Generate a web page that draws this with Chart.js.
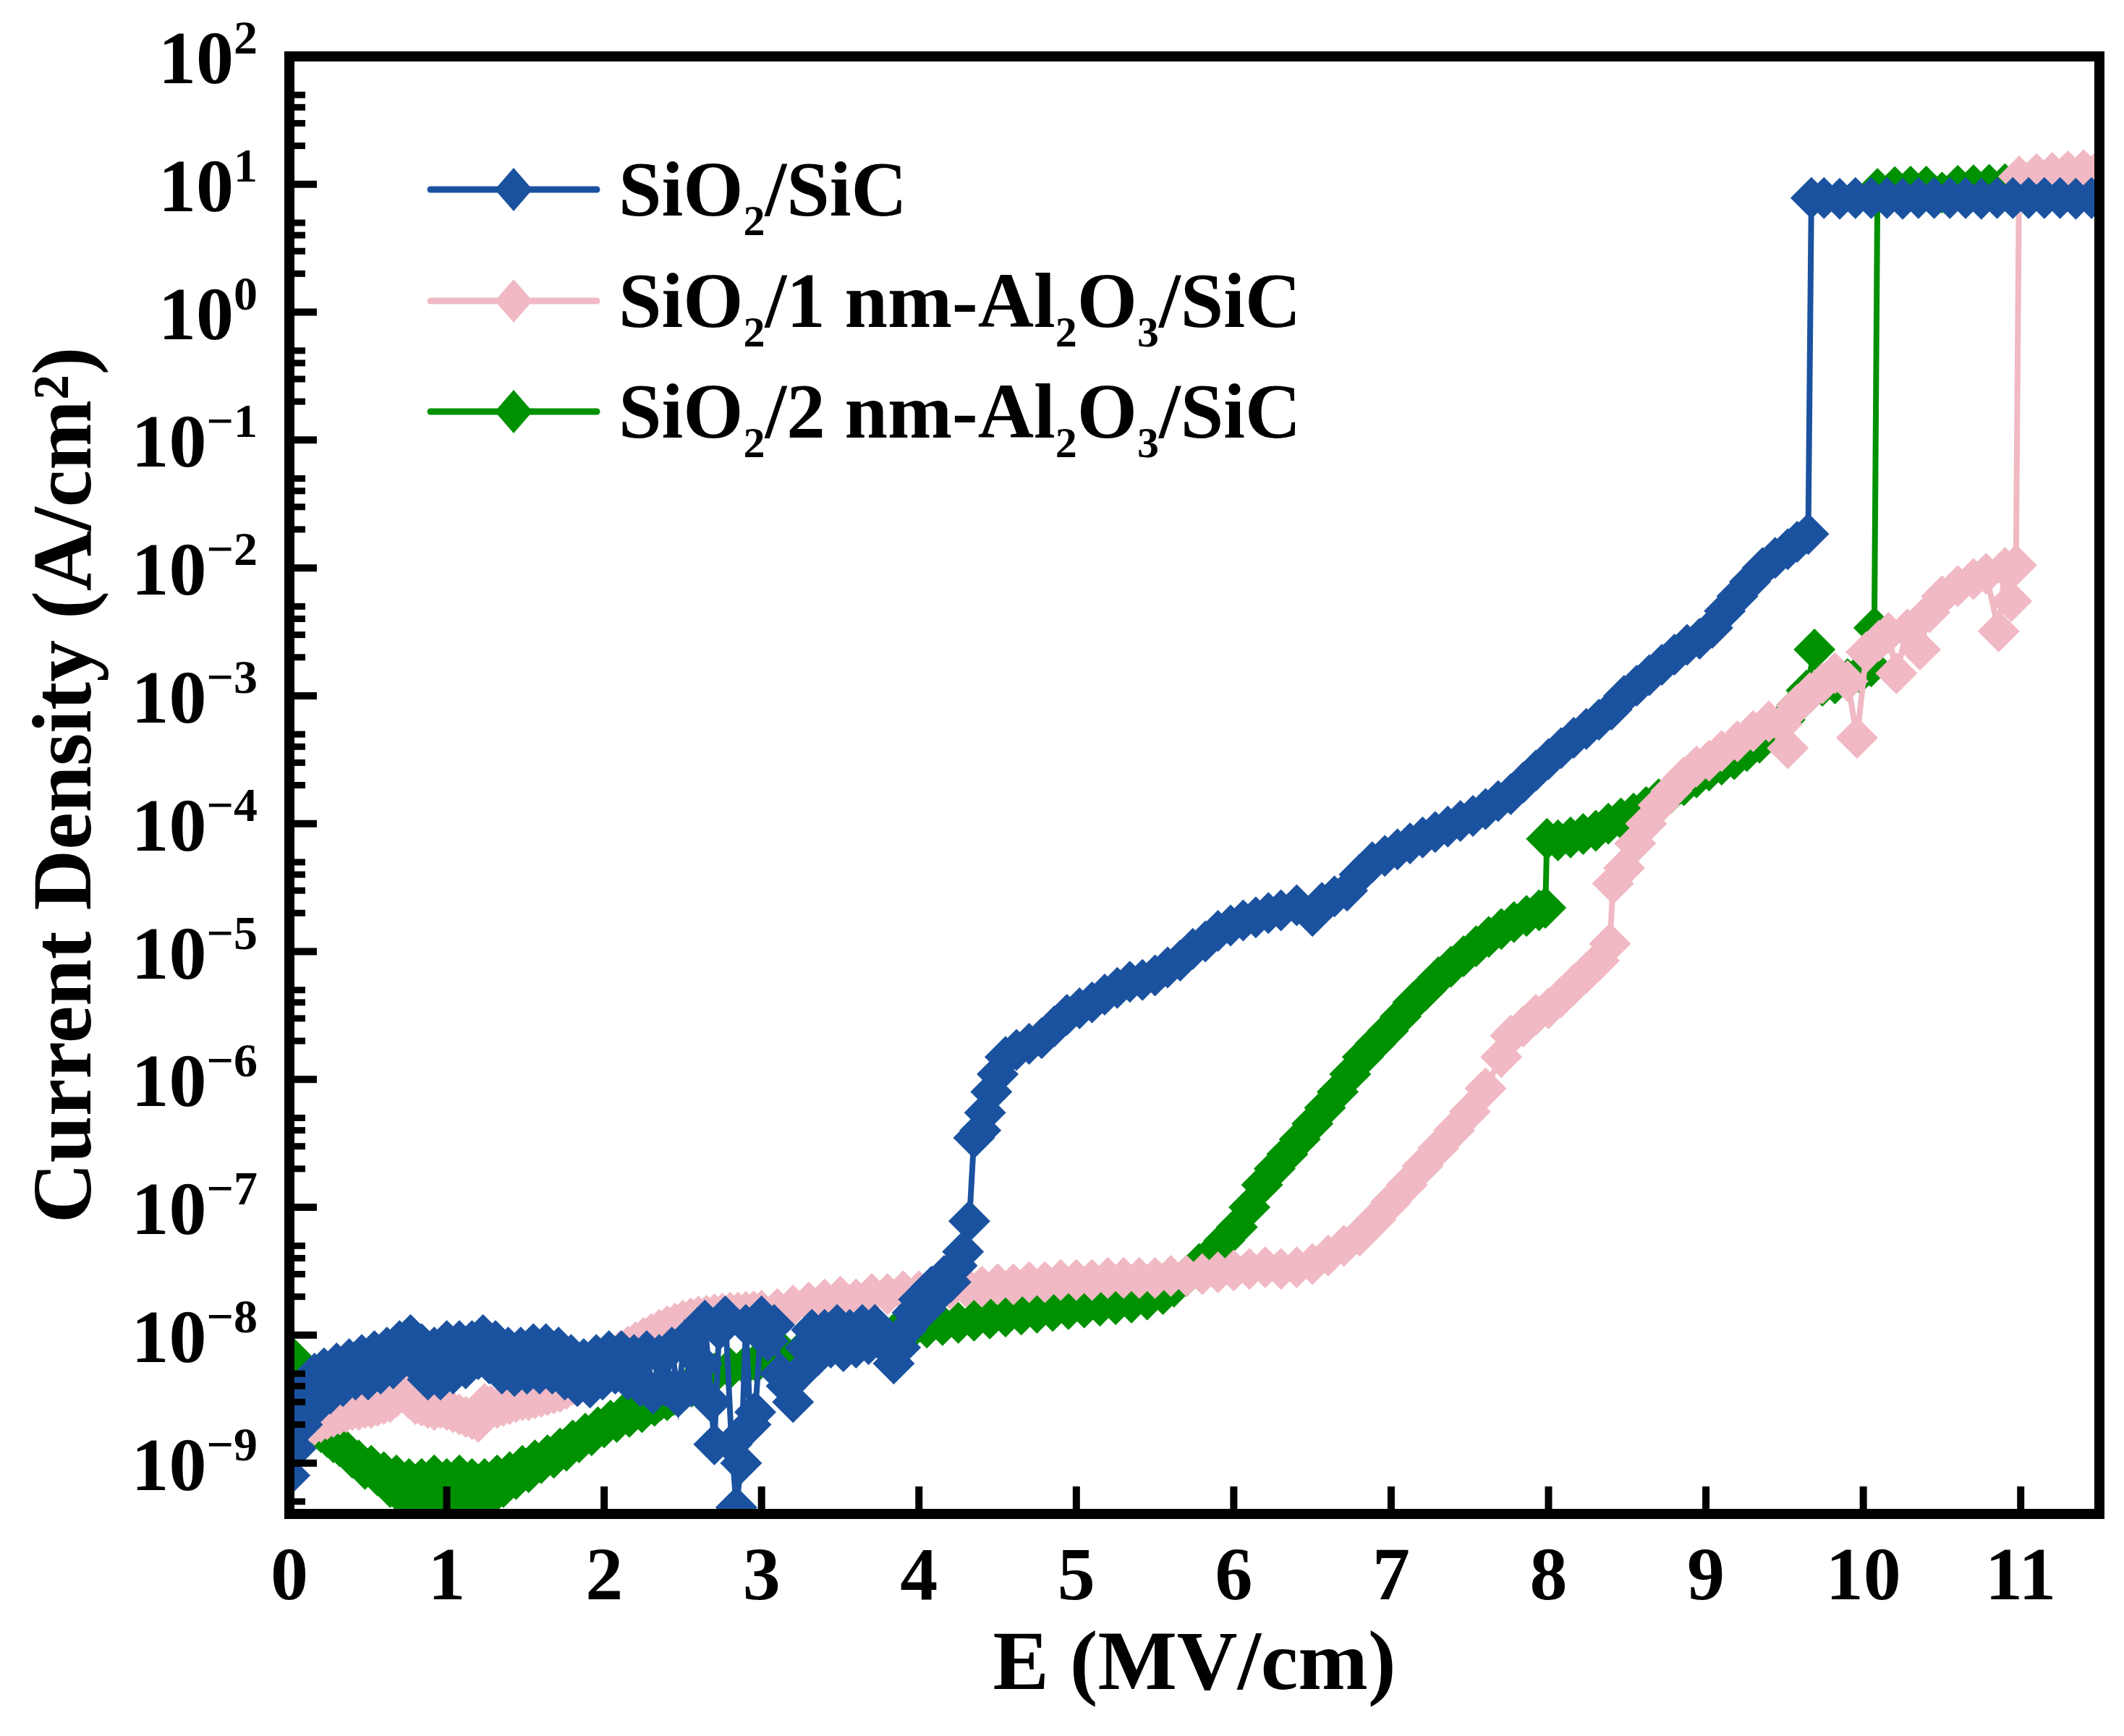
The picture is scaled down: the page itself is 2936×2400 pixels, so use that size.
<!DOCTYPE html>
<html lang="en">
<head>
  <meta charset="UTF-8" />
  <title>J-E curves</title>
  <script src="https://cdn.jsdelivr.net/npm/chart.js"></script>
  <style>
    html, body { margin: 0; padding: 0; background: #fff; }
    #chart { display: block; width: 2936px; height: 2400px; }
  </style>
</head>
<body>
  <canvas id="chart" width="2936" height="2400"></canvas>
  <script>
    // ---- data: [E (MV/cm), J (A/cm^2)] ----
    const blueData = [[0.00,8e-10],[0.02,2.5e-9],[0.04,1.3e-9],[0.06,3.5e-9],[0.08,2e-9],[0.10,4e-9],[0.13,2.5e-9],[0.16,5e-9],
      [0.19,3e-9],[0.22,5.5e-9],[0.26,3.5e-9],[0.30,6e-9],[0.34,4e-9],[0.38,6.5e-9],[0.42,4.5e-9],[0.46,7e-9],[0.50,4.5e-9],
      [0.54,7.5e-9],[0.58,5e-9],[0.62,8e-9],[0.66,5.5e-9],[0.70,9e-9],[0.74,7e-9],[0.77,1e-8],[0.80,6e-9],[0.84,8.5e-9],
      [0.88,4.5e-9],[0.92,8e-9],[0.96,4.5e-9],[1.00,9e-9],[1.04,5e-9],[1.08,9e-9],[1.12,5.5e-9],[1.16,9e-9],[1.20,6.5e-9],
      [1.23,1e-8],[1.27,6e-9],[1.31,9e-9],[1.35,5e-9],[1.39,8e-9],[1.43,4.8e-9],[1.47,8e-9],[1.51,5e-9],[1.55,8.5e-9],
      [1.59,5e-9],[1.63,8.5e-9],[1.67,5e-9],[1.71,8e-9],[1.75,4.5e-9],[1.79,7e-9],[1.83,4e-9],[1.87,6.5e-9],[1.91,3.9e-9],
      [1.95,7e-9],[1.99,4.5e-9],[2.03,7.5e-9],[2.07,5e-9],[2.11,7.5e-9],[2.15,4.5e-9],[2.19,7e-9],[2.23,4e-9],[2.27,7.5e-9],
      [2.31,3.5e-9],[2.35,7e-9],[2.39,4e-9],[2.43,8e-9],[2.47,3.3e-9],[2.51,9e-9],[2.55,4e-9],[2.59,1.1e-8],[2.62,6e-9],
      [2.64,1.3e-8],[2.68,3e-9],[2.70,1.4e-9],[2.73,1.1e-8],[2.77,1.4e-8],[2.81,1.4e-9],[2.84,4.5e-10],[2.87,1e-9],[2.90,1.2e-8],
      [2.93,2e-9],[2.96,2.5e-9],[3.00,1.4e-8],[3.04,9e-9],[3.08,1.2e-8],[3.12,5e-9],[3.16,4e-9],[3.20,3e-9],[3.24,5e-9],
      [3.28,8e-9],[3.32,1.1e-8],[3.36,7e-9],[3.40,1.1e-8],[3.44,8e-9],[3.48,1.2e-8],[3.52,7.5e-9],[3.56,1.1e-8],[3.60,8e-9],
      [3.64,1.2e-8],[3.68,8.5e-9],[3.72,1.2e-8],[3.76,9e-9],[3.80,8e-9],[3.84,6e-9],[3.88,8e-9],[3.92,1.1e-8],[3.96,1.5e-8],
      [4.00,1.9e-8],[4.04,1.6e-8],[4.08,2.4e-8],[4.12,2.1e-8],[4.16,2.9e-8],[4.20,2.6e-8],[4.24,3.5e-8],[4.28,4.5e-8],
      [4.32,7.8e-8],[4.35,3.5e-7],[4.39,4e-7],[4.42,5.5e-7],[4.46,8e-7],[4.50,1.1e-6],[4.55,1.5e-6],[4.62,1.7e-6],[4.70,1.9e-6],
      [4.78,2.1e-6],[4.86,2.6e-6],[4.94,3.2e-6],[5.02,3.6e-6],[5.10,4e-6],[5.18,4.6e-6],[5.26,5.2e-6],[5.34,5.8e-6],[5.42,6e-6],
      [5.50,6.5e-6],[5.58,7.5e-6],[5.66,8.5e-6],[5.74,1.05e-5],[5.82,1.2e-5],[5.90,1.45e-5],[5.98,1.6e-5],[6.06,1.75e-5],
      [6.14,1.85e-5],[6.22,2e-5],[6.30,2.1e-5],[6.40,2.3e-5],[6.50,1.9e-5],[6.56,2.4e-5],[6.64,2.7e-5],[6.72,3e-5],[6.80,4e-5],
      [6.88,5e-5],[6.96,5.6e-5],[7.04,6.3e-5],[7.12,7e-5],[7.20,7.8e-5],[7.28,8.6e-5],[7.36,9.5e-5],[7.44,1.05e-4],[7.52,1.15e-4],
      [7.60,1.3e-4],[7.68,1.5e-4],[7.76,1.7e-4],[7.84,2.1e-4],[7.92,2.6e-4],[8.00,3.2e-4],[8.08,3.9e-4],[8.16,4.7e-4],[8.24,5.5e-4],
      [8.32,6.5e-4],[8.40,7.8e-4],[8.48,1e-3],[8.56,1.2e-3],[8.64,1.45e-3],[8.72,1.75e-3],[8.80,2.1e-3],[8.88,2.5e-3],[8.96,2.8e-3],
      [9.04,3.4e-3],[9.12,4.6e-3],[9.20,6e-3],[9.28,7.8e-3],[9.36,1e-2],[9.44,1.2e-2],[9.52,1.4e-2],[9.58,1.6e-2],[9.65,1.84e-2],
      [9.67,7.8],[9.75,7.8],[9.85,7.7],[9.95,7.8],[10.05,7.8],[10.15,7.8],[10.25,7.7],[10.35,7.8],[10.45,7.8],[10.55,7.8],
      [10.65,7.8],[10.75,7.7],[10.85,7.8],[10.95,7.8],[11.05,7.8],[11.15,7.8],[11.25,7.8],[11.35,7.7],[11.45,7.8],[11.55,7.8]];

    const pinkData = [[0.00,3.2e-9],[0.04,2.4e-9],[0.08,2.1e-9],[0.12,2e-9],[0.16,2e-9],[0.20,2.1e-9],[0.24,2.2e-9],[0.28,2.3e-9],
      [0.32,2.4e-9],[0.36,2.5e-9],[0.40,2.6e-9],[0.44,2.6e-9],[0.48,2.7e-9],[0.52,2.7e-9],[0.56,2.8e-9],[0.60,2.9e-9],[0.64,3e-9],
      [0.68,3.3e-9],[0.72,3.8e-9],[0.76,3.2e-9],[0.80,2.9e-9],[0.84,2.8e-9],[0.88,2.7e-9],[0.92,2.6e-9],[0.96,2.7e-9],[1.00,2.6e-9],
      [1.04,2.5e-9],[1.08,2.4e-9],[1.12,2.3e-9],[1.16,2.2e-9],[1.20,2.1e-9],[1.24,2.9e-9],[1.28,2.8e-9],[1.32,2.7e-9],[1.36,2.8e-9],
      [1.40,2.9e-9],[1.44,3e-9],[1.48,3.1e-9],[1.52,3.1e-9],[1.56,3.2e-9],[1.60,3.3e-9],[1.64,3.4e-9],[1.68,3.5e-9],[1.72,3.6e-9],
      [1.76,3.8e-9],[1.80,4.1e-9],[1.85,4.6e-9],[1.90,5.1e-9],[1.95,5.7e-9],[2.00,6.3e-9],[2.05,6.9e-9],[2.10,7.5e-9],[2.15,8.1e-9],
      [2.20,8.8e-9],[2.25,9.5e-9],[2.30,1.02e-8],[2.35,1.1e-8],[2.40,1.17e-8],[2.45,1.23e-8],[2.50,1.3e-8],[2.55,1.35e-8],
      [2.60,1.4e-8],[2.65,1.42e-8],[2.70,1.45e-8],[2.75,1.47e-8],[2.80,1.5e-8],[2.85,1.5e-8],[2.90,1.52e-8],[2.95,1.53e-8],
      [3.00,1.55e-8],[3.10,1.6e-8],[3.20,1.7e-8],[3.30,1.8e-8],[3.40,1.9e-8],[3.50,2e-8],[3.60,1.9e-8],[3.70,2.1e-8],[3.80,2.1e-8],
      [3.90,2.2e-8],[4.00,2.2e-8],[4.10,2.3e-8],[4.20,2.3e-8],[4.30,2.4e-8],[4.40,2.4e-8],[4.50,2.5e-8],[4.60,2.5e-8],[4.70,2.6e-8],
      [4.80,2.6e-8],[4.90,2.7e-8],[5.00,2.7e-8],[5.10,2.7e-8],[5.20,2.8e-8],[5.30,2.8e-8],[5.40,2.8e-8],[5.50,2.8e-8],[5.60,2.9e-8],
      [5.70,2.9e-8],[5.80,3e-8],[5.90,3.1e-8],[6.00,3.2e-8],[6.10,3.3e-8],[6.20,3.4e-8],[6.30,3.3e-8],[6.40,3.4e-8],[6.50,3.6e-8],
      [6.60,4.2e-8],[6.70,5e-8],[6.80,6e-8],[6.90,8e-8],[7.00,1.1e-7],[7.10,1.5e-7],[7.20,2.1e-7],[7.30,2.9e-7],[7.40,4e-7],
      [7.50,5.6e-7],[7.60,8.5e-7],[7.70,1.5e-6],[7.76,2.2e-6],[7.84,2.6e-6],[7.92,3.2e-6],[8.00,3.6e-6],[8.08,4.4e-6],[8.16,5.5e-6],
      [8.24,6.8e-6],[8.32,8.5e-6],[8.39,1.15e-5],[8.41,3.4e-5],[8.48,4.5e-5],[8.55,7e-5],[8.62,1e-4],[8.70,1.4e-4],[8.78,1.8e-4],
      [8.86,2.3e-4],[8.94,2.8e-4],[9.02,3.1e-4],[9.10,3.7e-4],[9.20,4.4e-4],[9.30,5.3e-4],[9.40,6.3e-4],[9.48,6e-4],[9.52,3.9e-4],
      [9.58,8.5e-4],[9.66,1.05e-3],[9.74,1.25e-3],[9.82,1.5e-3],[9.90,1.3e-3],[9.96,4.7e-4],[10.02,2.2e-3],[10.10,2.7e-3],
      [10.16,3.1e-3],[10.21,1.5e-3],[10.28,3.3e-3],[10.36,2.3e-3],[10.42,4.5e-3],[10.50,6e-3],[10.60,7.2e-3],[10.70,8.2e-3],
      [10.78,9e-3],[10.86,3.2e-3],[10.90,1e-2],[10.94,5.5e-3],[10.97,1.05e-2],[10.99,11.5],[11.10,12],[11.20,12.3],[11.30,12.6],
      [11.40,12.9],[11.50,13.2]];

    const greenData = [[0.00,5e-9],[0.03,6.5e-9],[0.06,4e-9],[0.09,3e-9],[0.12,2.4e-9],[0.16,2e-9],[0.20,1.75e-9],[0.24,1.6e-9],
      [0.28,1.45e-9],[0.32,1.35e-9],[0.36,1.25e-9],[0.40,1.1e-9],[0.44,1.05e-9],[0.48,9e-10],[0.52,9.5e-10],[0.56,8e-10],
      [0.60,8.5e-10],[0.64,6.5e-10],[0.68,8e-10],[0.72,5.5e-10],[0.76,7.5e-10],[0.80,4.5e-10],[0.84,7.5e-10],[0.88,4.2e-10],
      [0.92,8e-10],[0.96,4.5e-10],[1.00,7.5e-10],[1.04,4.2e-10],[1.08,8e-10],[1.12,4.5e-10],[1.16,7.5e-10],[1.20,4.8e-10],
      [1.24,7.5e-10],[1.28,5.5e-10],[1.32,8e-10],[1.36,6.5e-10],[1.40,8.5e-10],[1.44,7.5e-10],[1.48,9.5e-10],[1.52,8.5e-10],
      [1.56,1.05e-9],[1.60,1e-9],[1.64,1.15e-9],[1.68,1.1e-9],[1.72,1.3e-9],[1.76,1.25e-9],[1.80,1.5e-9],[1.84,1.45e-9],
      [1.88,1.7e-9],[1.92,1.65e-9],[1.96,1.9e-9],[2.00,1.9e-9],[2.04,2.15e-9],[2.08,2.1e-9],[2.12,2.4e-9],[2.16,2.3e-9],
      [2.20,2.6e-9],[2.24,2.5e-9],[2.28,2.8e-9],[2.32,2.8e-9],[2.36,3.1e-9],[2.40,3.1e-9],[2.44,3.4e-9],[2.48,3.5e-9],
      [2.52,3.8e-9],[2.56,4e-9],[2.62,4.4e-9],[2.70,5e-9],[2.80,5.5e-9],[2.90,5.8e-9],[2.97,6.1e-9],[3.05,6.5e-9],[3.15,7e-9],
      [3.25,7.5e-9],[3.35,8e-9],[3.45,8.5e-9],[3.55,9e-9],[3.65,9.5e-9],[3.75,1e-8],[3.85,1.05e-8],[3.95,1.1e-8],[4.05,1.15e-8],
      [4.15,1.2e-8],[4.25,1.25e-8],[4.35,1.3e-8],[4.45,1.35e-8],[4.55,1.4e-8],[4.65,1.45e-8],[4.75,1.5e-8],[4.85,1.55e-8],
      [4.95,1.6e-8],[5.05,1.65e-8],[5.15,1.7e-8],[5.25,1.75e-8],[5.35,1.8e-8],[5.45,1.9e-8],[5.55,2.1e-8],[5.62,2.4e-8],
      [5.70,2.9e-8],[5.78,3.6e-8],[5.86,4.3e-8],[5.94,5.5e-8],[6.02,7e-8],[6.10,1e-7],[6.18,1.5e-7],[6.26,2e-7],[6.34,2.6e-7],
      [6.42,3.4e-7],[6.50,4.5e-7],[6.58,6e-7],[6.66,8e-7],[6.74,1.1e-6],[6.82,1.5e-6],[6.90,1.9e-6],[6.98,2.4e-6],[7.06,3.1e-6],
      [7.14,4e-6],[7.22,5e-6],[7.30,6.3e-6],[7.38,7.6e-6],[7.46,9.2e-6],[7.54,1.1e-5],[7.62,1.3e-5],[7.70,1.5e-5],[7.78,1.7e-5],
      [7.86,1.9e-5],[7.94,2.1e-5],[7.98,2.2e-5],[7.99,7.6e-5],[8.06,7.4e-5],[8.14,7.8e-5],[8.22,8.3e-5],[8.30,8.8e-5],[8.38,1e-4],
      [8.46,1.1e-4],[8.54,1.2e-4],[8.62,1.35e-4],[8.70,1.55e-4],[8.78,1.75e-4],[8.86,2e-4],[8.94,2.3e-4],[9.02,2.6e-4],[9.10,2.9e-4],
      [9.18,3.2e-4],[9.26,3.7e-4],[9.34,4.3e-4],[9.42,5.2e-4],[9.50,6.5e-4],[9.58,8.5e-4],[9.64,1.1e-3],[9.69,2.3e-3],[9.74,1.2e-3],
      [9.82,1.25e-3],[9.90,1.35e-3],[9.98,1.5e-3],[10.05,1.7e-3],[10.07,3.4e-3],[10.09,9.2],[10.20,9.5],[10.30,9.6],[10.40,9.6],
      [10.50,8.6],[10.60,9.7],[10.70,9.8],[10.80,9.9],[10.90,10],[11.00,10.1],[11.10,10.1],[11.20,10.2],[11.30,10.2],[11.40,10.3],
      [11.50,10.3]];

    const seriesColors = ['#1b52a0', '#f0b9c3', '#009100'];
    // legend text pieces: [text, isSubscript]
    const legendLabels = [
      [['SiO', false], ['2', true], ['/SiC', false]],
      [['SiO', false], ['2', true], ['/1 nm-Al', false], ['2', true], ['O', false], ['3', true], ['/SiC', false]],
      [['SiO', false], ['2', true], ['/2 nm-Al', false], ['2', true], ['O', false], ['3', true], ['/SiC', false]]
    ];
    const xTicks = [0, 1, 2, 3, 4, 5, 6, 7, 8, 9, 10, 11];
    const yDecades = [2, 1, 0, -1, -2, -3, -4, -5, -6, -7, -8, -9];
    const yMinor = [2, 3, 4, 5];

    const FONT = '"Liberation Serif", "Times New Roman", serif';

    function series(label, pairs, color) {
      return {
        label,
        data: pairs.map(([x, y]) => ({ x, y })),
        borderColor: color,
        backgroundColor: color,
        borderWidth: 8,
        pointStyle: 'rectRot',
        pointRadius: 29,
        pointHoverRadius: 29,
        pointBorderWidth: 0,
        pointBackgroundColor: color,
        tension: 0,
        clip: 0
      };
    }

    // frame + inward ticks
    const framePlugin = {
      id: 'frame',
      afterDatasetsDraw(chart) {
        const { ctx, chartArea: a, scales: { x, y } } = chart;
        const seg = (x1, y1, x2, y2) => { ctx.beginPath(); ctx.moveTo(x1, y1); ctx.lineTo(x2, y2); ctx.stroke(); };
        ctx.save();
        ctx.strokeStyle = '#000';
        ctx.lineWidth = 10;
        xTicks.forEach(v => { const px = x.getPixelForValue(v); seg(px, a.bottom, px, a.bottom - 38); });
        yDecades.forEach(e => { const py = y.getPixelForValue(Math.pow(10, e)); seg(a.left, py, a.left + 38, py); });
        ctx.lineWidth = 9;
        [...yDecades, -10].forEach(e => yMinor.forEach(m => {
          const v = m * Math.pow(10, e);
          if (v <= y.min || v >= y.max) return;
          const py = y.getPixelForValue(v);
          seg(a.left, py, a.left + 22, py);
        }));
        ctx.lineWidth = 14;
        ctx.strokeRect(a.left, a.top, a.right - a.left, a.bottom - a.top);
        ctx.restore();
      }
    };

    // 10^n tick labels and legend
    const labelPlugin = {
      id: 'labels',
      afterDraw(chart) {
        const { ctx, scales: { y } } = chart;
        ctx.save();
        ctx.fillStyle = '#000';
        ctx.textBaseline = 'alphabetic';
        ctx.textAlign = 'left';
        const right = 356;
        yDecades.forEach(e => {
          const py = y.getPixelForValue(Math.pow(10, e));
          const sup = e < 0 ? '\u2212' + (-e) : String(e);
          ctx.font = `bold 66px ${FONT}`;
          const supW = ctx.measureText(sup).width;
          ctx.fillText(sup, right - supW, py - 4);
          ctx.font = `bold 104px ${FONT}`;
          const baseW = ctx.measureText('10').width;
          ctx.fillText('10', right - supW - baseW, py + 37);
        });

        const rows = [262, 416, 569];
        rows.forEach((ry, i) => {
          const c = seriesColors[i];
          ctx.strokeStyle = c;
          ctx.fillStyle = c;
          ctx.lineWidth = 9;
          ctx.lineCap = 'round';
          ctx.beginPath(); ctx.moveTo(595, ry); ctx.lineTo(825, ry); ctx.stroke();
          ctx.beginPath();
          ctx.moveTo(710, ry - 30); ctx.lineTo(736, ry); ctx.lineTo(710, ry + 30); ctx.lineTo(684, ry);
          ctx.closePath(); ctx.fill();
          let tx = 855;
          ctx.fillStyle = '#000';
          legendLabels[i].forEach(([t, sub]) => {
            ctx.font = sub ? `bold 60px ${FONT}` : `bold 107px ${FONT}`;
            ctx.fillText(t, tx, ry + 36 + (sub ? 27 : 0));
            tx += ctx.measureText(t).width;
          });
        });
        ctx.restore();
      }
    };

    new Chart(document.getElementById('chart').getContext('2d'), {
      type: 'line',
      data: {
        datasets: [
          series('SiO2/SiC', blueData, seriesColors[0]),
          series('SiO2/1 nm-Al2O3/SiC', pinkData, seriesColors[1]),
          series('SiO2/2 nm-Al2O3/SiC', greenData, seriesColors[2])
        ]
      },
      options: {
        responsive: false,
        devicePixelRatio: 1,
        animation: false,
        events: [],
        layout: { padding: { top: 78, right: 34, left: 0, bottom: 0 } },
        plugins: { legend: { display: false }, tooltip: { enabled: false } },
        scales: {
          x: {
            type: 'linear',
            min: 0,
            max: 11.5,
            grid: { display: false, drawTicks: false },
            border: { display: false },
            ticks: {
              stepSize: 1,
              includeBounds: false,
              autoSkip: false,
              maxRotation: 0,
              padding: 29,
              color: '#000',
              font: { family: FONT, size: 104, weight: 'bold' }
            },
            title: {
              display: true,
              text: 'E (MV/cm)',
              color: '#000',
              font: { family: FONT, size: 116, weight: 'bold' },
              padding: { top: 0, bottom: 25 }
            },
            afterFit(scale) { scale.height = 307; }
          },
          y: {
            type: 'logarithmic',
            min: 4e-10,
            max: 100,
            grid: { display: false, drawTicks: false },
            border: { display: false },
            ticks: { display: false },
            title: {
              display: true,
              text: 'Current Density (A/cm\u00B2)',
              color: '#000',
              font: { family: FONT, size: 116, weight: 'bold' },
              padding: { top: 25, bottom: 0 }
            },
            afterFit(scale) { scale.width = 400; }
          }
        }
      },
      plugins: [framePlugin, labelPlugin]
    });
  </script>
</body>
</html>
